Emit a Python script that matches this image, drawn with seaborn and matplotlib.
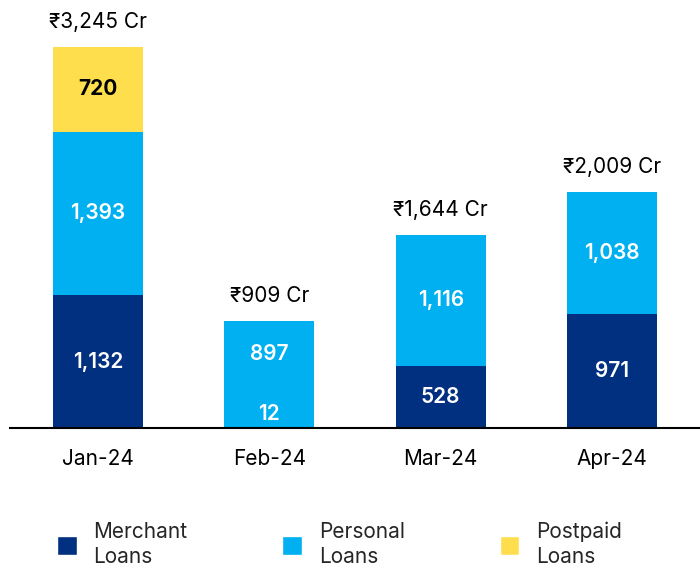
import matplotlib
matplotlib.use("Agg")
import matplotlib.pyplot as plt
from matplotlib.patches import Patch
import pandas as pd
import seaborn as sns

# data (Rs crore)
months = ["Jan-24", "Feb-24", "Mar-24", "Apr-24"]
merchant = [1132, 12, 528, 971]
personal = [1393, 897, 1116, 1038]
postpaid = [720, 0, 0, 0]
totals = [3245, 909, 1644, 2009]
series_names = ["Merchant\nLoans", "Personal\nLoans", "Postpaid\nLoans"]
colors = ["#00307F", "#00B0F0", "#FFDE4D"]

sns.set_theme(style="white")
plt.rcParams["font.family"] = ["Inter", "DejaVu Sans"]

df = pd.DataFrame({"month": months, "merchant": merchant,
                   "personal": personal, "postpaid": postpaid})
df["mp"] = df["merchant"] + df["personal"]
df["all"] = df["mp"] + df["postpaid"]

fig = plt.figure(figsize=(7, 5.67), dpi=100)
ax = fig.add_axes([10 / 700, 139 / 567, 690 / 700, 418 / 567])

# stacked look: draw running totals from the top layer down
for col, c in zip(["all", "mp", "merchant"], colors[::-1]):
    sns.barplot(data=df, x="month", y=col, color=c, width=0.525,
                saturation=1, linewidth=0, ax=ax)

# segment labels (Feb ones are lifted a bit, the merchant slice is tiny)
lift = {(1, 0): 113, (1, 1): 170}
for i in range(len(months)):
    bottom = 0
    for k, vals in enumerate([merchant, personal, postpaid]):
        v = vals[i]
        if v == 0:
            continue
        y = bottom + v / 2 + lift.get((i, k), 0)
        if k == 2:
            ax.text(i, y, f"{v:,}", ha="center", va="center", fontsize=15,
                    color="black", fontweight="bold")
        else:
            ax.text(i, y, f"{v:,}", ha="center", va="center", fontsize=15,
                    color="white", fontweight="semibold")
        bottom += v

for i, t in enumerate(totals):
    ax.annotate(f"₹{t:,} Cr", (i, t), xytext=(0, 18), textcoords="offset points",
                ha="center", va="center", fontsize=15, color="black")

ax.set_xlim(-0.514, 3.514)
ax.set_ylim(0, 3560)
ax.set_yticks([])
ax.set_xlabel("")
ax.set_ylabel("")
for s in ["top", "left", "right"]:
    ax.spines[s].set_visible(False)
ax.spines["bottom"].set_color("black")
ax.spines["bottom"].set_linewidth(1.5)
ax.tick_params(axis="x", length=0, pad=15, labelsize=15, labelcolor="black")

handles = [Patch(facecolor=c) for c in colors]
leg = fig.legend(handles, series_names, loc="center left", bbox_to_anchor=(57 / 700, 0.04),
                 ncol=3, frameon=False, fontsize=15, handlelength=0.95, handleheight=1.0,
                 handletextpad=0.8, columnspacing=4.55, borderpad=0, borderaxespad=0)
for t in leg.get_texts():
    t.set_linespacing(1.35)

fig.savefig("out.png", dpi=100)
